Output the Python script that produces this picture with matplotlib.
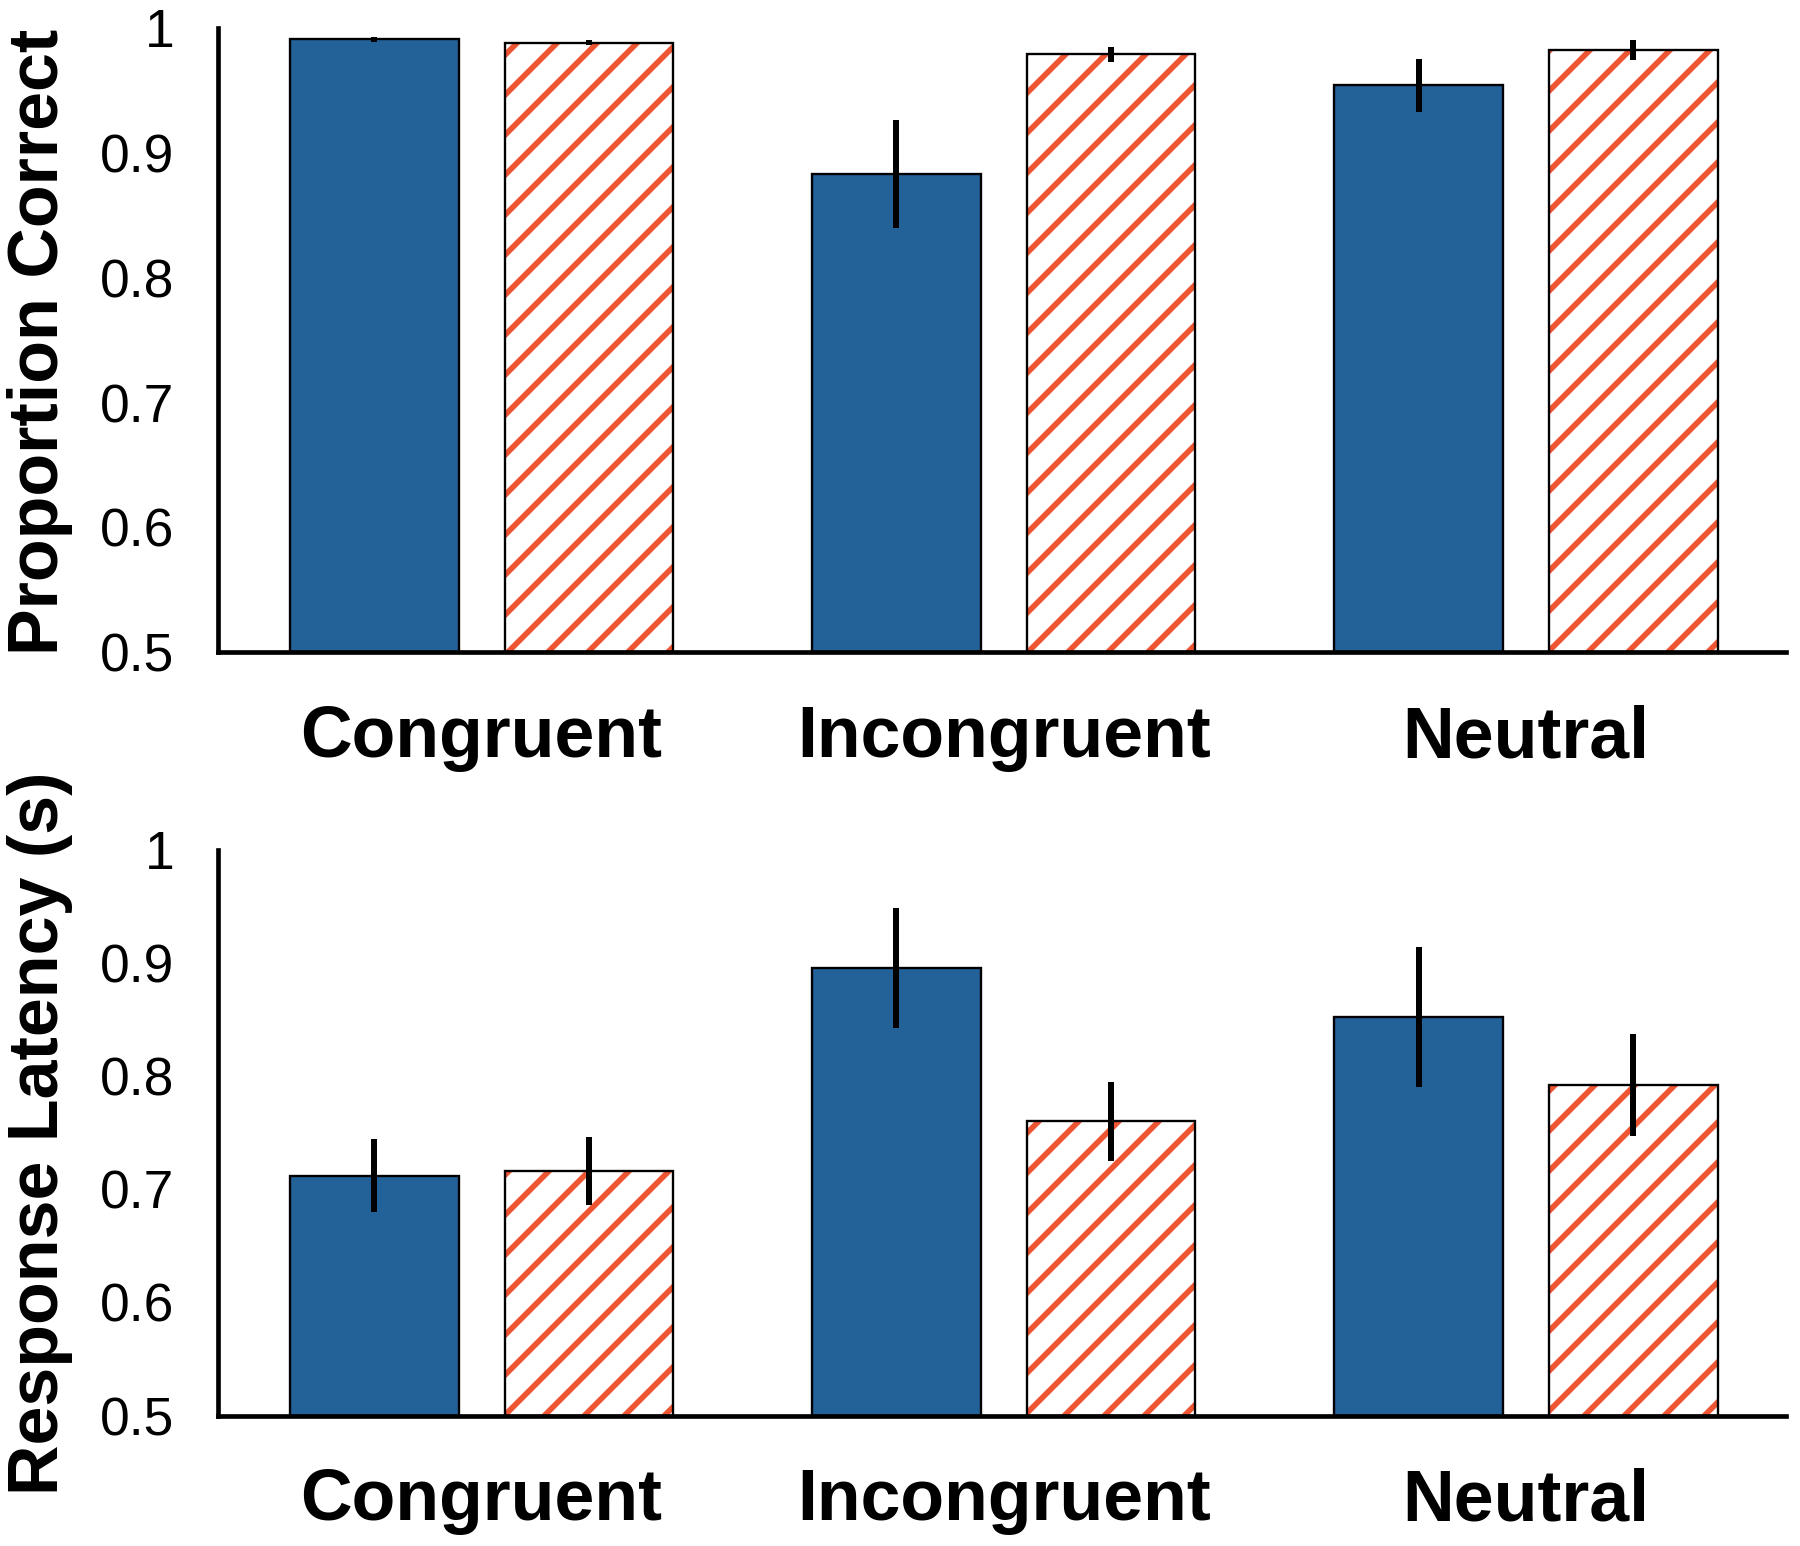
import numpy as np
import matplotlib
matplotlib.use("Agg")
import matplotlib.pyplot as plt
from matplotlib.ticker import FormatStrFormatter

# data
conditions = ["Congruent", "Incongruent", "Neutral"]

acc_solid = [0.991, 0.883, 0.954]
acc_solid_err = [0.002, 0.043, 0.021]
acc_hatch = [0.988, 0.979, 0.982]
acc_hatch_err = [0.002, 0.006, 0.008]

rt_solid = [0.712, 0.895, 0.852]
rt_solid_err = [0.032, 0.053, 0.062]
rt_hatch = [0.716, 0.760, 0.792]
rt_hatch_err = [0.030, 0.035, 0.045]

yticks = [0.5, 0.6, 0.7, 0.8, 0.9, 1.0]

BLUE = "#236199"
ORANGE = "#EE5533"

plt.rcParams["font.family"] = ["Liberation Sans", "DejaVu Sans"]
plt.rcParams["hatch.linewidth"] = 1.7
plt.rcParams["hatch.color"] = ORANGE

DPI = 240
fig = plt.figure(figsize=(1800 / DPI, 1546 / DPI), dpi=DPI)
ax1 = fig.add_axes([0.121, 0.578, 0.871, 0.404])
ax2 = fig.add_axes([0.121, 0.0844, 0.871, 0.3661])

x = np.arange(len(conditions))
w = 0.323
off = 0.2055


def panel(ax, solid, solid_err, hatch, hatch_err, ylabel_y, ylabel):
    ax.bar(x - off, np.array(solid) - 0.5, w, bottom=0.5, color=BLUE,
           edgecolor="black", linewidth=0.7, zorder=2)
    # hatched bar: stripes first, black outline on top
    ax.bar(x + off, np.array(hatch) - 0.5, w, bottom=0.5, color="white",
           edgecolor=ORANGE, hatch="//", linewidth=0, zorder=2)
    ax.bar(x + off, np.array(hatch) - 0.5, w, bottom=0.5, color="none",
           edgecolor="black", linewidth=0.7, zorder=3)
    ax.errorbar(x - off, solid, yerr=solid_err, fmt="none", ecolor="black",
                elinewidth=1.8, capsize=0, zorder=4)
    ax.errorbar(x + off, hatch, yerr=hatch_err, fmt="none", ecolor="black",
                elinewidth=1.8, capsize=0, zorder=4)

    ax.set_xlim(-0.505, 2.497)
    ax.set_ylim(0.5, 1.0)
    ax.set_yticks(yticks)
    ax.yaxis.set_major_formatter(FormatStrFormatter("%g"))
    ax.set_xticks(x)
    ax.set_xticklabels(conditions, fontsize=21.5, fontweight="bold")
    ax.tick_params(axis="y", length=0, pad=13, labelsize=16)
    ax.tick_params(axis="x", length=0, pad=15.5)
    for s in ["top", "right"]:
        ax.spines[s].set_visible(False)
    for s in ["left", "bottom"]:
        ax.spines[s].set_linewidth(1.4)
    fig.text(0.0225, ylabel_y, ylabel, rotation=90, ha="center", va="center",
             fontsize=21, fontweight="bold")


panel(ax1, acc_solid, acc_solid_err, acc_hatch, acc_hatch_err, 0.779, "Proportion Correct")
panel(ax2, rt_solid, rt_solid_err, rt_hatch, rt_hatch_err, 0.267, "Response Latency (s)")

fig.savefig("out.png", dpi=DPI)
